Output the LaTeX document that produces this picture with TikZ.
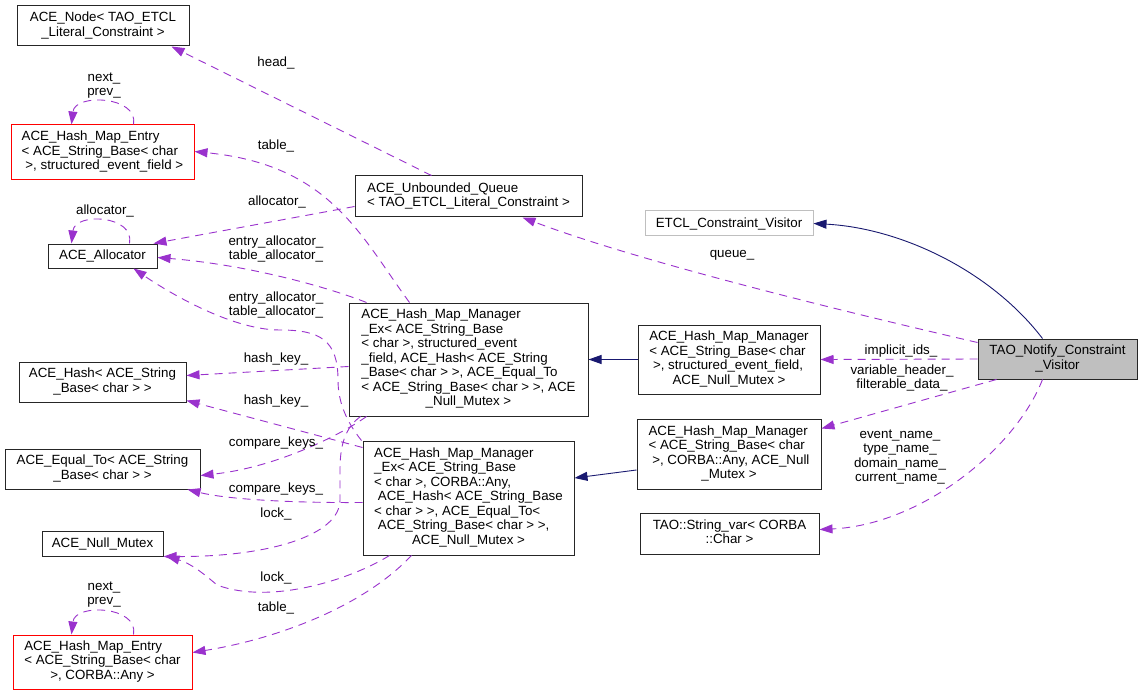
\documentclass[tikz,border=0pt]{standalone}
\usepackage{fontspec}
\setmainfont{Liberation Sans}
\usetikzlibrary{arrows.meta}
\definecolor{edgepurple}{HTML}{9A32CD}
\definecolor{edgenavy}{HTML}{191970}
\definecolor{grayb}{HTML}{BFBFBF}
\newcommand\lastline[1]{\multicolumn{1}{@{}c@{}}{#1}}
\begin{document}
\begin{tikzpicture}[x=1pt,y=-1pt,
  every node/.style={font=\fontsize{13.33}{14.5}\selectfont},
  cls/.style={draw=black!85, line width=1pt, inner sep=0pt, fill=white},
  trunc/.style={cls, draw=red},
  ext/.style={cls, draw=grayb},
  cur/.style={cls, fill=grayb},
  dep/.style={draw=edgepurple, dash pattern=on 8pt off 6pt, line width=0.9pt, -{Triangle[length=13pt,width=9pt]}},
  inh/.style={draw=edgenavy, line width=0.9pt, -{Triangle[length=13pt,width=9pt]}},
  lbl/.style={inner sep=0pt, align=center}
]
\fill[white] (0,0) rectangle (1143,695);
\useasboundingbox (0,0) rectangle (1143,695);

% ---- nodes ----
\node[cls, minimum width=172pt, minimum height=40pt] (acenode) at (103,26)
  {\begin{tabular}{@{}l@{}}ACE\_Node< TAO\_ETCL\\\lastline{\_Literal\_Constraint >}\end{tabular}};
\node[trunc, minimum width=183pt, minimum height=55pt] (entryA) at (102.5,152.5)
  {\begin{tabular}{@{}l@{}}ACE\_Hash\_Map\_Entry\\< ACE\_String\_Base< char\\\lastline{\ >, structured\_event\_field >}\end{tabular}};
\node[cls, minimum width=109pt, minimum height=24pt] (alloc) at (102.5,256) {ACE\_Allocator};
\node[cls, minimum width=227pt, minimum height=41pt] (queue) at (468.5,196.5)
  {\begin{tabular}{@{}l@{}}ACE\_Unbounded\_Queue\\\lastline{< TAO\_ETCL\_Literal\_Constraint >}\end{tabular}};
\node[cls, minimum width=167pt, minimum height=40pt] (hash) at (102.5,382)
  {\begin{tabular}{@{}l@{}}ACE\_Hash< ACE\_String\\\lastline{\_Base< char > >}\end{tabular}};
\node[cls, minimum width=195pt, minimum height=40pt] (equal) at (102.5,469)
  {\begin{tabular}{@{}l@{}}ACE\_Equal\_To< ACE\_String\\\lastline{\_Base< char > >}\end{tabular}};
\node[cls, minimum width=121pt, minimum height=25pt] (mutex) at (102.5,543.5) {ACE\_Null\_Mutex};
\node[trunc, minimum width=179pt, minimum height=54pt] (entryB) at (102.5,662)
  {\begin{tabular}{@{}l@{}}ACE\_Hash\_Map\_Entry\\< ACE\_String\_Base< char\\\lastline{>, CORBA::Any >}\end{tabular}};
\node[cls, minimum width=239pt, minimum height=113pt] (hmmexA) at (468.5,359.5)
  {\begin{tabular}{@{}l@{}}ACE\_Hash\_Map\_Manager\\\_Ex< ACE\_String\_Base\\< char >, structured\_event\\\_field, ACE\_Hash< ACE\_String\\\_Base< char > >, ACE\_Equal\_To\\< ACE\_String\_Base< char > >, ACE\\\lastline{\_Null\_Mutex >}\end{tabular}};
\node[cls, minimum width=211pt, minimum height=114pt] (hmmexB) at (468.5,498)
  {\begin{tabular}{@{}l@{}}ACE\_Hash\_Map\_Manager\\\_Ex< ACE\_String\_Base\\< char >, CORBA::Any,\\\ ACE\_Hash< ACE\_String\_Base\\< char > >, ACE\_Equal\_To<\\\ ACE\_String\_Base< char > >,\\\lastline{ACE\_Null\_Mutex >}\end{tabular}};
\node[ext, minimum width=168pt, minimum height=25pt] (etcl) at (729,223.5) {ETCL\_Constraint\_Visitor};
\node[cur, minimum width=159pt, minimum height=40pt] (visitor) at (1057.5,359)
  {\begin{tabular}{@{}l@{}}TAO\_Notify\_Constraint\\\lastline{\_Visitor}\end{tabular}};
\node[cls, minimum width=182pt, minimum height=69pt] (hmmA) at (729,359.5)
  {\begin{tabular}{@{}l@{}}ACE\_Hash\_Map\_Manager\\< ACE\_String\_Base< char\\\ >, structured\_event\_field,\\\lastline{ACE\_Null\_Mutex >}\end{tabular}};
\node[cls, minimum width=184pt, minimum height=70pt] (hmmB) at (729,454)
  {\begin{tabular}{@{}l@{}}ACE\_Hash\_Map\_Manager\\< ACE\_String\_Base< char\\\ >, CORBA::Any, ACE\_Null\\\lastline{\_Mutex >}\end{tabular}};
\node[cls, minimum width=179pt, minimum height=41pt] (strvar) at (729.5,533.5)
  {\begin{tabular}{@{}l@{}}TAO::String\_var< CORBA\\\lastline{::Char >}\end{tabular}};

% ---- edges ----
\draw[inh] ([xshift=65pt]visitor.north west) .. controls (990,270) and (900,228) .. (etcl.east);
\draw[dep] ([yshift=-4pt]visitor.north west) .. controls (850,313) and (640,262) .. ([xshift=168pt]queue.south west);
\draw[dep] (visitor.west) -- (hmmA.east);
\draw[dep] ([xshift=19pt]visitor.south west) -- ([yshift=-10pt]hmmB.north east);
\draw[dep] ([xshift=65pt]visitor.south west) .. controls (1015,450) and (920,525) .. ([yshift=4pt]strvar.east);
\draw[dep] ([xshift=77pt]queue.north west) -- ([xshift=155pt]acenode.south west);
\draw[dep] ([yshift=-31pt]queue.north west) -- ([xshift=-4pt]alloc.north east);
\draw[dep] ([xshift=82pt]alloc.north west) .. controls (135,215) and (75,212) .. ([xshift=24pt]alloc.north west);
\draw[dep] ([xshift=123pt]entryA.north west) .. controls (139,96) and (75,93) .. ([xshift=61pt]entryA.north west);
\draw[dep] ([xshift=61pt]hmmexA.north west) .. controls (360,235) and (330,165) .. ([yshift=-27pt]entryA.north east);
\draw[dep] ([xshift=18pt]hmmexA.north west) .. controls (330,288) and (250,265) .. ([yshift=-14pt]alloc.north east);
\draw[dep] ([xshift=-1pt]hmmexB.north west) .. controls (345,420) and (338,400) .. (338,380)
  .. controls (338,340) and (320,330) .. (280,330) .. controls (230,330) and (165,290) .. ([xshift=-24pt]alloc.south east);
\draw[dep] ([yshift=-64pt]hmmexA.north west) -- ([yshift=-14pt]hash.north east);
\draw[dep] ([yshift=-7pt]hmmexB.north west) -- ([yshift=2pt]hash.south east);
\draw[dep] ([xshift=18pt]hmmexA.south west) .. controls (345,432) and (280,467) .. ([yshift=14pt]equal.south east);
\draw[dep] ([yshift=-62pt]hmmexB.north west) .. controls (300,503) and (230,500) .. ([xshift=-13pt]equal.south east);
\draw[dep] ([xshift=12pt]hmmexA.south west) .. controls (345,428) and (340,445) .. (340,470) -- (340,500)
  .. controls (340,535) and (270,557) .. (mutex.south east);
\draw[dep] ([xshift=27pt]hmmexB.south west) .. controls (350,580) and (270,605) .. (217,585)
  .. controls (203,573) and (190,563) .. ([xshift=3pt]mutex.south east);
\draw[dep] ([xshift=49pt]hmmexB.south west) .. controls (360,610) and (270,640) .. ([yshift=-18pt]entryB.north east);
\draw[dep] ([xshift=121pt]entryB.north west) .. controls (139,606) and (75,603) .. ([xshift=59pt]entryB.north west);
\draw[inh] (hmmA.west) -- (hmmexA.east);
\draw[inh] ([yshift=-16pt]hmmB.west) -- ([yshift=20pt]hmmexB.east);

% ---- labels ----
\node[lbl] (lhead) at (276,63) {head\_};
\node[lbl] (ltableA) at (276,146) {table\_};
\node[lbl] (lallocq) at (277,202) {allocator\_};
\node[lbl] (lallocs) at (105,211) {allocator\_};
\node[lbl] (lnextA) at (104,85.5) {next\_\\prev\_};
\node[lbl] (leaA) at (276,249) {entry\_allocator\_\\table\_allocator\_};
\node[lbl] (leaB) at (276,305) {entry\_allocator\_\\table\_allocator\_};
\node[lbl] (lhashA) at (276,359) {hash\_key\_};
\node[lbl] (lhashB) at (276,401) {hash\_key\_};
\node[lbl] (lcmpA) at (276,443) {compare\_keys\_};
\node[lbl] (lcmpB) at (276,489) {compare\_keys\_};
\node[lbl] (llockA) at (276,514) {lock\_};
\node[lbl] (llockB) at (276,578) {lock\_};
\node[lbl] (ltableB) at (276,608) {table\_};
\node[lbl] (lnextB) at (104,594.5) {next\_\\prev\_};
\node[lbl] (lqueue) at (732,255) {queue\_};
\node[lbl] (limpl) at (901,351) {implicit\_ids\_};
\node[lbl] (lvar) at (902,378) {variable\_header\_\\filterable\_data\_};
\node[lbl] (lnames) at (900,457) {event\_name\_\\type\_name\_\\domain\_name\_\\current\_name\_};
\end{tikzpicture}
\end{document}
